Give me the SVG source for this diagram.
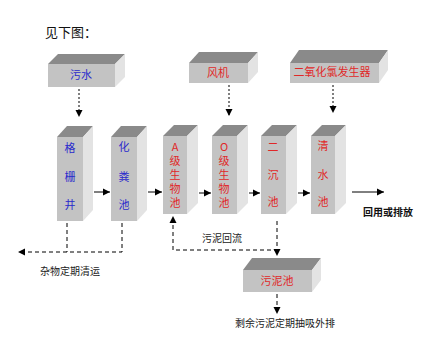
<svg xmlns="http://www.w3.org/2000/svg" width="433" height="341" viewBox="0 0 433 341">
<style>
.front{fill:#c3c3c3}
.top{fill:#8a8a8a}
.side{fill:#e3e3e3}
text{font-family:"Noto Sans CJK SC","Liberation Sans",sans-serif;}
.blue{fill:#2a2acc;font-size:11px;text-anchor:middle}
.red{fill:#e02828;font-size:11px;text-anchor:middle}
.vert{fill:#e02828;font-size:11px;writing-mode:vertical-rl;text-orientation:upright;letter-spacing:3px}
.lbl{fill:#222;font-size:10px}
.ln{stroke:#000;stroke-width:1;fill:none}
.dot{stroke-dasharray:2,2}
.dash{stroke-dasharray:4,3}
</style>
<defs>
<marker id="ah" markerWidth="8" markerHeight="8" refX="7" refY="4" orient="auto" markerUnits="userSpaceOnUse">
<path d="M0,0.5 L7,4 L0,7.5 Z" fill="#000"/>
</marker>
</defs>
<rect width="433" height="341" fill="#fff"/>
<text x="45" y="37" style="font-size:13px;fill:#111">见下图：</text>

<g id="wushui">
<rect class="front" x="48" y="64" width="67" height="23"/>
<polygon class="top" points="48,64 58,54 125,54 115,64"/>
<polygon class="side" points="115,64 125,54 125,77 115,87"/>
<text class="blue" x="81" y="79">污水</text>
</g>
<g id="fengji">
<rect class="front" x="189" y="63" width="59" height="20"/>
<polygon class="top" points="189,63 199,52 258,52 248,63"/>
<polygon class="side" points="248,63 258,52 258,72 248,83"/>
<text class="red" x="218" y="77">风机</text>
</g>
<g id="clo2">
<rect class="front" x="290" y="63" width="89" height="20"/>
<polygon class="top" points="290,63 299,50 388,50 379,63"/>
<polygon class="side" points="379,63 388,50 388,70 379,83"/>
<text class="red" x="332" y="76">二氧化氯发生器</text>
</g>

<g id="geshanjing">
<rect class="front" x="57" y="137" width="26" height="84"/>
<polygon class="top" points="57,137 67,126 93,126 83,137"/>
<polygon class="side" points="83,137 93,126 93,210 83,221"/>
<text class="blue"><tspan x="70" y="152">格</tspan><tspan x="70" y="181">栅</tspan><tspan x="70" y="209">井</tspan></text>
</g>
<g id="huafenchi">
<rect class="front" x="111" y="137" width="26" height="84"/>
<polygon class="top" points="111,137 121,126 147,126 137,137"/>
<polygon class="side" points="137,137 147,126 147,210 137,221"/>
<text class="blue"><tspan x="124" y="151">化</tspan><tspan x="124" y="181">粪</tspan><tspan x="124" y="209">池</tspan></text>
</g>
<g id="a-pool">
<rect class="front" x="163" y="136" width="24" height="78"/>
<polygon class="top" points="163,136 174,125 198,125 187,136"/>
<polygon class="side" points="187,136 198,125 198,203 187,214"/>
<text class="vert" x="175" y="141">A级生物池</text>
</g>
<g id="o-pool">
<rect class="front" x="212" y="136" width="25" height="78"/>
<polygon class="top" points="212,136 223,125 248,125 237,136"/>
<polygon class="side" points="237,136 248,125 248,203 237,214"/>
<text class="vert" x="224" y="141">O级生物池</text>
</g>
<g id="erchenchi">
<rect class="front" x="261" y="136" width="25" height="78"/>
<polygon class="top" points="261,136 272,125 297,125 286,136"/>
<polygon class="side" points="286,136 297,125 297,203 286,214"/>
<text class="red"><tspan x="273" y="151">二</tspan><tspan x="273" y="179">沉</tspan><tspan x="273" y="206">池</tspan></text>
</g>
<g id="qingshuichi">
<rect class="front" x="311" y="136" width="24" height="78"/>
<polygon class="top" points="311,136 322,125 346,125 335,136"/>
<polygon class="side" points="335,136 346,125 346,203 335,214"/>
<text class="red"><tspan x="323" y="150">清</tspan><tspan x="323" y="179">水</tspan><tspan x="323" y="206">池</tspan></text>
</g>
<g id="wunichi">
<rect class="front" x="243" y="270" width="69" height="22"/>
<polygon class="top" points="243,270 252,258 321,258 312,270"/>
<polygon class="side" points="312,270 321,258 321,280 312,292"/>
<text class="red" x="277" y="285">污泥池</text>
</g>

<g id="connectors">
<line class="ln dot" x1="79" y1="89" x2="79" y2="117" marker-end="url(#ah)"/>
<line class="ln dot" x1="229" y1="85" x2="229" y2="116" marker-end="url(#ah)"/>
<line class="ln dot" x1="333" y1="85" x2="333" y2="113" marker-end="url(#ah)"/>
<line class="ln" x1="94" y1="192" x2="110" y2="192" marker-end="url(#ah)"/>
<line class="ln" x1="148" y1="192" x2="162" y2="192" marker-end="url(#ah)"/>
<line class="ln" x1="199" y1="193" x2="211" y2="193" marker-end="url(#ah)"/>
<line class="ln" x1="249" y1="193" x2="260" y2="193" marker-end="url(#ah)"/>
<line class="ln" x1="298" y1="193" x2="310" y2="193" marker-end="url(#ah)"/>
<line class="ln" x1="352" y1="192" x2="384" y2="192" marker-end="url(#ah)"/>
<polyline class="ln dash" points="67,223 67,252"/>
<polyline class="ln dash" points="122,223 122,252 18,252" marker-end="url(#ah)"/>
<polyline class="ln dash" points="277,221 277,250 173,250 173,216" marker-end="url(#ah)"/>
<line class="ln dash" x1="277" y1="250" x2="277" y2="256" marker-end="url(#ah)"/>
<line class="ln dash" x1="277" y1="294" x2="277" y2="314" marker-end="url(#ah)"/>
</g>

<text class="lbl" x="363" y="216" style="font-weight:bold;fill:#111">回用或排放</text>
<text class="lbl" x="40" y="275">杂物定期清运</text>
<text class="lbl" x="202" y="242">污泥回流</text>
<text class="lbl" x="235" y="327">剩余污泥定期抽吸外排</text>
</svg>
